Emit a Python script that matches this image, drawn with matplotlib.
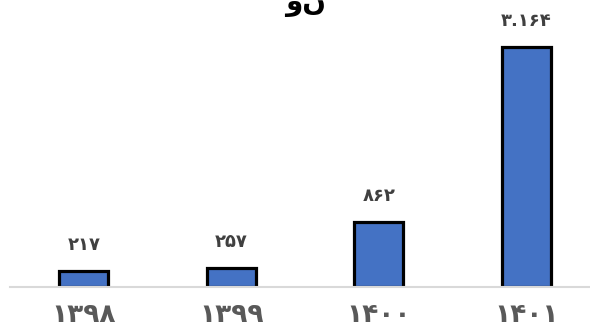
import matplotlib
matplotlib.use("Agg")
import matplotlib.pyplot as plt

years = ["۱۳۹۸", "۱۳۹۹", "۱۴۰۰", "۱۴۰۱"]
values = [217, 257, 862, 3164]
value_labels = ["۲۱۷", "۲۵۷", "۸۶۲", "۳.۱۶۴"]

plt.rcParams['font.family'] = ['DejaVu Sans']

fig = plt.figure(figsize=(5.9, 3.35), dpi=100)
ax = fig.add_axes([10 / 590, 48 / 335, 590 / 590, 265.5 / 335])

x = range(len(years))
bars = ax.bar(x, values, width=0.33, color="#4472C4", edgecolor="black",
              linewidth=2.3, zorder=2)

for b, lab in zip(bars, value_labels):
    ax.annotate(lab, (b.get_x() + b.get_width() / 2, b.get_height()),
                xytext=(0, 12), textcoords="offset points", ha="center",
                va="bottom", fontsize=13, fontweight="bold", color="#404040")

ax.set_xlim(-0.5, 3.5)
ax.set_ylim(0, 3500)
ax.set_xticks(list(x))
ax.set_xticklabels(years, fontsize=19, fontweight="bold", color="#595959")
ax.tick_params(axis="x", length=0, pad=11)
ax.set_yticks([])
for s in ["top", "right", "left"]:
    ax.spines[s].set_visible(False)
ax.spines["bottom"].set_color("#D9D9D9")
ax.spines["bottom"].set_linewidth(1.5)

fig.text(305 / 590, 1 - 17 / 335, "ون", ha="center", va="bottom",
         fontsize=20, fontweight="bold", color="black")

fig.savefig("out.png", dpi=100)
